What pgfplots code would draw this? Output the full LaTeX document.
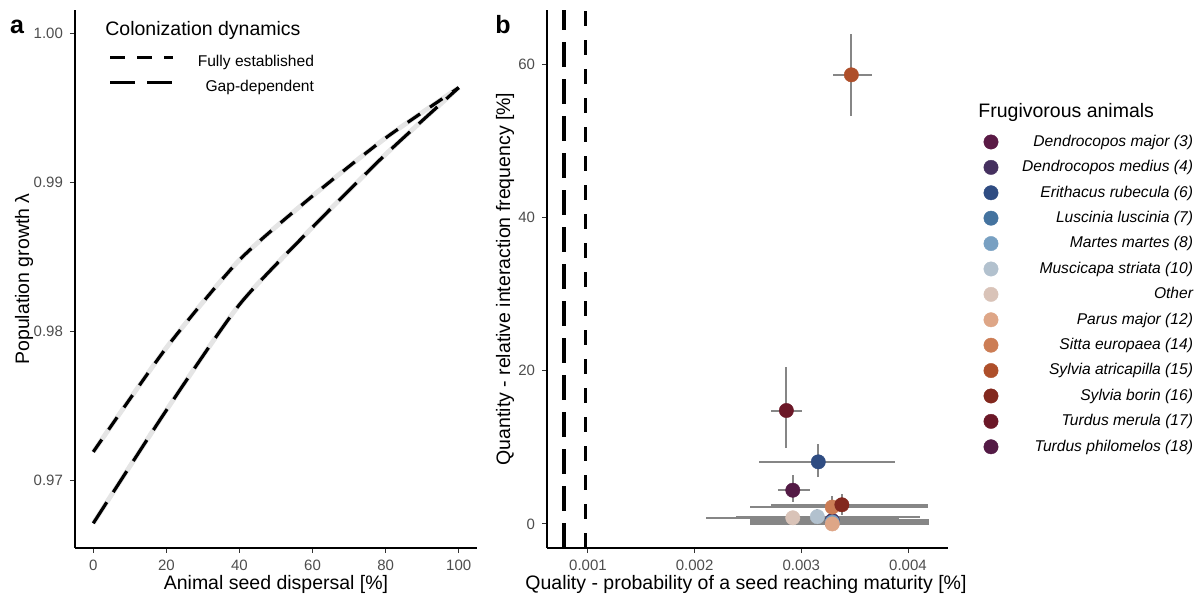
\documentclass[border=0pt]{standalone}
\usepackage{fontspec}
\setmainfont{Liberation Sans}
\usepackage{pgfplots}
\pgfplotsset{compat=1.18}
\definecolor{ticktext}{HTML}{4D4D4D}
\definecolor{errc}{HTML}{868686}
\definecolor{c01}{HTML}{5A1A45}
\definecolor{c02}{HTML}{45305F}
\definecolor{c03}{HTML}{2F4C82}
\definecolor{c04}{HTML}{44739F}
\definecolor{c05}{HTML}{78A0C2}
\definecolor{c06}{HTML}{B2C1CE}
\definecolor{c07}{HTML}{D9C3B8}
\definecolor{c08}{HTML}{DEA687}
\definecolor{c09}{HTML}{CC7D55}
\definecolor{c10}{HTML}{AE4F2A}
\definecolor{c11}{HTML}{82281E}
\definecolor{c12}{HTML}{6B1727}
\definecolor{c13}{HTML}{531A45}
\pgfplotsset{
  base/.style={
    scale only axis, anchor=south west,
    axis x line*=bottom, axis y line*=left,
    axis line style={black, line width=0.6pt},
    tick style={black!80, line width=0.5pt},
    major tick length=2.5pt, tick align=outside,
    ticklabel style={font=\fontsize{7.5}{9}\selectfont, text=ticktext},
    /pgf/number format/assume math mode=true,
  },
  pt/.style={only marks, mark=*, mark size=3.6pt, mark options={fill=#1, draw=#1, line width=0.2pt}},
  eb/.style={errc, line width=1pt, forget plot},
}
\pgfplotstableread{
x   y
0   0.9719
20  0.9789
40  0.9848
60  0.9891
80  0.9930
100 0.99638
}\fully
\pgfplotstableread{
x   y
0   0.9671
20  0.9747
40  0.9818
60  0.9870
80  0.9919
100 0.99638
}\gap
\begin{document}
\begin{tikzpicture}
\path[use as bounding box] (0pt,0pt) rectangle (600pt,297.5pt);
% ---------------- panel a
\begin{axis}[base, at={(37.5pt,23.5pt)}, width=201pt, height=269pt,
  xmin=-5, xmax=105, ymin=0.96544, ymax=1.0016,
  xtick={0,20,40,60,80,100}, ytick={0.97,0.98,0.99,1.00},
  yticklabel style={/pgf/number format/.cd, fixed, fixed zerofill, precision=2},
  legend style={at={(0.5945,0.9175)}, anchor=north east, draw=none, fill=none,
    inner sep=0pt, outer sep=0pt, legend cell align=right,
    font=\fontsize{7.8}{9}\selectfont, row sep=5pt, column sep=11.5pt,
    nodes={inner sep=0pt, text height=6pt, text depth=1.6pt}},
  legend image code/.code={\draw[#1] (0pt,2.2pt) -- (31.5pt,2.2pt);}]
\addplot[black!10, line width=2.4pt, smooth, tension=0.4, forget plot] table {\fully};
\addplot[black!10, line width=2.4pt, smooth, tension=0.4, forget plot] table {\gap};
\addplot[black, line width=1.6pt, smooth, tension=0.4, dash pattern=on 7.5pt off 6pt] table {\fully};
\addlegendentry{Fully established}
\addplot[black, line width=1.6pt, smooth, tension=0.4, dash pattern=on 12.5pt off 6pt] table {\gap};
\addlegendentry{Gap-dependent}
\end{axis}
% ---------------- panel b
\begin{axis}[base, at={(273.5pt,23.5pt)}, width=200.5pt, height=269pt,
  xmin=0.000616, xmax=0.004375, ymin=-3.14, ymax=67.06,
  xtick={0.001,0.002,0.003,0.004}, scaled x ticks=false,
  xticklabel style={/pgf/number format/.cd, fixed, precision=3},
  ytick={0,20,40,60},
  legend style={at={(1.611,0.7688)}, anchor=north east, draw=none, fill=none,
    inner sep=0pt, outer sep=0pt, legend cell align=right,
    font=\itshape\fontsize{7.8}{9}\selectfont, row sep=5.1pt, column sep=12pt,
    nodes={inner sep=0pt, text height=6pt, text depth=1.6pt}}]
\addplot[black, line width=1.6pt, dash pattern=on 12.5pt off 6pt, forget plot] coordinates {(0.000775,-3.14) (0.000775,67.06)};
\addplot[black, line width=1.6pt, dash pattern=on 7.5pt off 7pt, forget plot] coordinates {(0.00098,-3.14) (0.00098,67.06)};
% error bars
\addplot[eb] coordinates {(0.00252,0.15) (0.0042,0.15)};
\addplot[eb] coordinates {(0.00329,0) (0.00329,0.5)};
\addplot[eb] coordinates {(0.00252,0.45) (0.0042,0.45)};
\addplot[eb] coordinates {(0.00329,0) (0.00329,1.0)};
\addplot[eb] coordinates {(0.002606,8.1) (0.00388,8.1)};
\addplot[eb] coordinates {(0.003159,6.1) (0.003159,10.46)};
\addplot[eb] coordinates {(0.00252,0.28) (0.0042,0.28)};
\addplot[eb] coordinates {(0.00252,0.05) (0.0042,0.05)};
\addplot[eb] coordinates {(0.00239,0.95) (0.00411,0.95)};
\addplot[eb] coordinates {(0.00315,0.4) (0.00315,1.9)};
\addplot[eb] coordinates {(0.00211,0.8) (0.00392,0.8)};
\addplot[eb] coordinates {(0.00292,0.3) (0.00292,1.3)};
\addplot[eb] coordinates {(0.00252,0.0) (0.0042,0.0)};
\addplot[eb] coordinates {(0.00252,2.2) (0.00419,2.2)};
\addplot[eb] coordinates {(0.00329,1.0) (0.00329,3.6)};
\addplot[eb] coordinates {(0.003298,58.6) (0.003664,58.6)};
\addplot[eb] coordinates {(0.003469,53.2) (0.003469,63.9)};
\addplot[eb] coordinates {(0.00272,2.5) (0.00419,2.5)};
\addplot[eb] coordinates {(0.00338,1.2) (0.00338,3.9)};
\addplot[eb] coordinates {(0.00272,14.8) (0.00301,14.8)};
\addplot[eb] coordinates {(0.00286,9.9) (0.00286,20.5)};
\addplot[eb] coordinates {(0.00278,4.4) (0.00308,4.4)};
\addplot[eb] coordinates {(0.00292,2.9) (0.00292,6.4)};
% points
\addplot[pt=c01] coordinates {(0.00329,0.15)}; \addlegendentry{Dendrocopos major (3)}
\addplot[pt=c02] coordinates {(0.00329,0.45)}; \addlegendentry{Dendrocopos medius (4)}
\addplot[pt=c03] coordinates {(0.003159,8.1)}; \addlegendentry{Erithacus rubecula (6)}
\addplot[pt=c04] coordinates {(0.00329,0.25)}; \addlegendentry{Luscinia luscinia (7)}
\addplot[pt=c05] coordinates {(0.00329,0.2)}; \addlegendentry{Martes martes (8)}
\addplot[pt=c06] coordinates {(0.00315,0.95)}; \addlegendentry{Muscicapa striata (10)}
\addplot[pt=c07] coordinates {(0.00292,0.8)}; \addlegendentry{Other}
\addplot[pt=c08] coordinates {(0.00329,0.0)}; \addlegendentry{Parus major (12)}
\addplot[pt=c09] coordinates {(0.00329,2.2)}; \addlegendentry{Sitta europaea (14)}
\addplot[pt=c10] coordinates {(0.003469,58.6)}; \addlegendentry{Sylvia atricapilla (15)}
\addplot[pt=c11] coordinates {(0.00338,2.5)}; \addlegendentry{Sylvia borin (16)}
\addplot[pt=c12] coordinates {(0.00286,14.8)}; \addlegendentry{Turdus merula (17)}
\addplot[pt=c13] coordinates {(0.00292,4.4)}; \addlegendentry{Turdus philomelos (18)}
\end{axis}
% ---------------- texts
\node[font=\bfseries\fontsize{12.5}{14}\selectfont] at (8.5pt,284pt) {a};
\node[font=\bfseries\fontsize{12.5}{14}\selectfont] at (251.5pt,285pt) {b};
\node[font=\fontsize{9.75}{11}\selectfont, rotate=90] at (12pt,158pt) {Population growth λ};
\node[font=\fontsize{9.75}{11}\selectfont] at (138pt,5.5pt) {Animal seed dispersal [\%]};
\node[font=\fontsize{9.75}{11}\selectfont, anchor=west, inner sep=0pt] at (52.5pt,282.5pt) {Colonization dynamics};
\node[font=\fontsize{9.75}{11}\selectfont, rotate=90] at (252.5pt,158pt) {Quantity - relative interaction frequency [\%]};
\node[font=\fontsize{9.75}{11}\selectfont] at (373pt,5.5pt) {Quality - probability of a seed reaching maturity [\%]};
\node[font=\fontsize{9.75}{11}\selectfont, anchor=west, inner sep=0pt] at (489pt,241.5pt) {Frugivorous animals};
\end{tikzpicture}
\end{document}
